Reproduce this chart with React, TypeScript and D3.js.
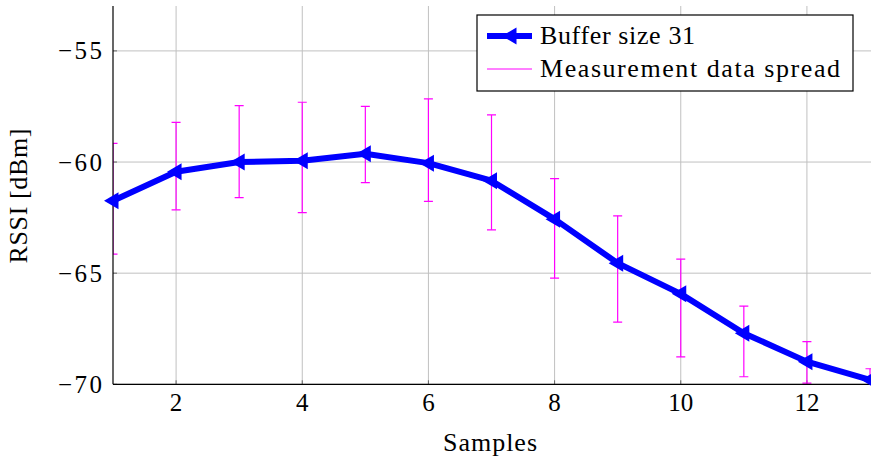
import React from "react";
import * as d3 from "d3";

const samples = [1, 2, 3, 4, 5, 6, 7, 8, 9, 10, 11, 12, 13];
const rssiMean = [-61.74, -60.44, -60.0, -59.94, -59.63, -60.05, -60.84, -62.57, -64.55, -65.93, -67.7, -68.98, -69.8];
const spreadTop = [-59.16, -58.22, -57.46, -57.31, -57.5, -57.16, -57.88, -60.75, -62.42, -64.37, -66.48, -68.08, -69.3];
const spreadBottom = [-64.14, -62.15, -61.6, -62.28, -60.93, -61.77, -63.05, -65.22, -67.2, -68.77, -69.66, -69.95, -70.3];
const xTicks = [2, 4, 6, 8, 10, 12];
const yTicks = [-70, -65, -60, -55];
const legendLabels = ["Buffer size 31", "Measurement data spread"];

const W = 871;
const H = 460;
const left = 113;
const right = 870;
const top = 6;
const bottom = 384.3;
const FONT = "'Liberation Serif', 'DejaVu Serif', serif";

export default function App() {
  const x = d3.scaleLinear().domain([1, 13]).range([left, right]);
  const y = d3.scaleLinear().domain([-70, -52.98]).range([bottom, top]);
  const pts = samples.map((s, i) => [x(s), y(rssiMean[i])] as [number, number]);
  const line = d3.line()(pts) || "";
  const tri = (cx: number, cy: number) =>
    `M${cx - 9},${cy} L${cx + 5.5},${cy - 8.5} L${cx + 5.5},${cy + 8.5} Z`;
  const fmt = (v: number) => (v < 0 ? "\u2212" + Math.abs(v) : String(v));

  return (
    <svg
      width={W}
      height={H}
      style={{ position: "absolute", left: 0, top: 0, background: "#fff" }}
      fontFamily={FONT}
    >
      <defs>
        <clipPath id="plotclip">
          <rect x={left} y={top} width={right - left + 1} height={bottom - top} />
        </clipPath>
      </defs>
      <rect x={0} y={0} width={W} height={H} fill="#fff" />
      {/* grid */}
      {xTicks.map((t) => (
        <line key={"gx" + t} x1={x(t)} x2={x(t)} y1={top} y2={bottom} stroke="#c0c0c0" strokeWidth={1} />
      ))}
      {yTicks.map((t) => (
        <line key={"gy" + t} x1={left} x2={W} y1={y(t)} y2={y(t)} stroke="#c0c0c0" strokeWidth={1} />
      ))}
      {/* ticks */}
      {xTicks.map((t) => (
        <line key={"tx" + t} x1={x(t)} x2={x(t)} y1={bottom} y2={bottom - 4} stroke="#666" strokeWidth={1} />
      ))}
      {yTicks.map((t) => (
        <line key={"ty" + t} x1={left} x2={left + 4} y1={y(t)} y2={y(t)} stroke="#666" strokeWidth={1} />
      ))}
      {/* error bars */}
      <g clipPath="url(#plotclip)" stroke="#ff00ff" strokeWidth={1.2}>
        {samples.map((s, i) => (
          <g key={"e" + s}>
            <line x1={x(s)} x2={x(s)} y1={y(spreadTop[i])} y2={y(spreadBottom[i])} />
            <line x1={x(s) - 4.5} x2={x(s) + 4.5} y1={y(spreadTop[i])} y2={y(spreadTop[i])} />
            <line x1={x(s) - 4.5} x2={x(s) + 4.5} y1={y(spreadBottom[i])} y2={y(spreadBottom[i])} />
          </g>
        ))}
      </g>
      {/* axes */}
      <line x1={left} x2={left} y1={top} y2={bottom} stroke="#000" strokeWidth={1.2} />
      <line x1={left} x2={W} y1={bottom} y2={bottom} stroke="#000" strokeWidth={1.2} />
      {/* series */}
      <path d={line} fill="none" stroke="#0000ff" strokeWidth={6} strokeLinejoin="round" />
      {pts.map(([px, py], i) => (
        <path key={"m" + i} d={tri(px, py)} fill="#0000ff" />
      ))}
      {/* tick labels */}
      {xTicks.map((t) => (
        <text key={"lx" + t} x={x(t)} y={411} textAnchor="middle" fontSize={25} fill="#000">
          {fmt(t)}
        </text>
      ))}
      {yTicks.map((t) => (
        <text
          key={"ly" + t}
          x={58}
          y={y(t) + 8.5}
          textLength={44}
          lengthAdjust="spacing"
          fontSize={25}
          fill="#000"
        >
          {fmt(t)}
        </text>
      ))}
      {/* axis labels */}
      <text x={443} y={451} textLength={94} lengthAdjust="spacing" fontSize={26} fill="#000">
        Samples
      </text>
      <text
        transform={`translate(27,263.5) rotate(-90)`}
        textLength={135}
        lengthAdjust="spacing"
        fontSize={26}
        fill="#000"
      >
        RSSI [dBm]
      </text>
      {/* legend */}
      <rect x={477} y={15} width={376} height={76} fill="#fff" stroke="#000" strokeWidth={1.2} />
      <line x1={487} x2={532} y1={36} y2={36} stroke="#0000ff" strokeWidth={6} />
      <path d={tri(511, 36)} fill="#0000ff" />
      <line x1={487} x2={532} y1={69} y2={69} stroke="#ff00ff" strokeWidth={1} />
      <text x={540} y={43.5} textLength={155} lengthAdjust="spacing" fontSize={26} fill="#000">
        {legendLabels[0]}
      </text>
      <text x={540} y={77} textLength={300} lengthAdjust="spacing" fontSize={26} fill="#000">
        {legendLabels[1]}
      </text>
    </svg>
  );
}
